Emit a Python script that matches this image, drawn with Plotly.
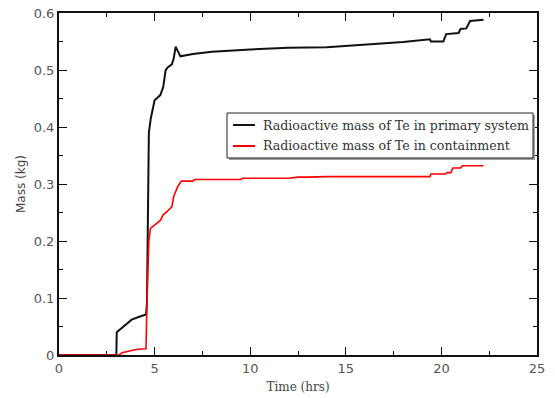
import plotly.graph_objects as go

# Time (hrs) and mass (kg) for primary system
t_primary = [0, 3.0, 3.02, 3.2, 3.5, 3.8, 4.2, 4.55, 4.6, 4.66, 4.7, 4.8, 4.9, 5.0, 5.3, 5.45, 5.58, 5.7, 5.9, 6.0, 6.1, 6.2, 6.35,
             7.0, 8.0, 10.0, 12.0, 14.0, 16.0, 18.0, 19.4, 19.45, 20.1, 20.25, 20.9, 21.0, 21.3, 21.5, 22.2]
m_primary = [0, 0, 0.040, 0.045, 0.055, 0.062, 0.067, 0.071, 0.09, 0.30, 0.39, 0.415, 0.43, 0.447, 0.456, 0.47, 0.50, 0.505, 0.51, 0.52, 0.541, 0.535, 0.524,
             0.528, 0.532, 0.536, 0.539, 0.540, 0.544, 0.549, 0.554, 0.550, 0.550, 0.563, 0.565, 0.572, 0.573, 0.586, 0.588]

# Time (hrs) and mass (kg) for containment
t_contain = [0, 3.15, 3.3, 3.5, 3.8, 4.1, 4.55, 4.62, 4.7, 4.78, 5.1, 5.3, 5.45, 5.6, 5.9, 6.0, 6.2, 6.4, 7.0, 7.1, 9.5, 9.6,
             12.0, 12.5, 13.0, 14.0, 19.4, 19.45, 20.2, 20.3, 20.5, 20.6, 21.0, 21.1, 22.2]
m_contain = [0, 0, 0.004, 0.006, 0.008, 0.010, 0.011, 0.12, 0.20, 0.222, 0.231, 0.236, 0.246, 0.250, 0.260, 0.278, 0.295, 0.305, 0.305, 0.308, 0.308, 0.310,
             0.310, 0.312, 0.312, 0.313, 0.313, 0.3175, 0.3175, 0.320, 0.320, 0.328, 0.328, 0.332, 0.332]

series_names = ["Radioactive mass of Te in primary system", "Radioactive mass of Te in containment"]
series_colors = ["#111111", "#ff0000"]

fig = go.Figure()
fig.add_trace(go.Scatter(x=t_primary, y=m_primary, mode="lines", name=series_names[0],
                         line=dict(color=series_colors[0], width=2)))
fig.add_trace(go.Scatter(x=t_contain, y=m_contain, mode="lines", name=series_names[1],
                         line=dict(color=series_colors[1], width=1.6)))

W, H = 555, 398
ml, mr, mt, mb = 59, 18, 13, 43
pw, ph = W - ml - mr, H - mt - mb

def px(x):
    return (x - ml) / pw

def py(y):
    return (H - mb - y) / ph

# custom legend box (pixels)
lx0, ly0, lx1, ly1 = 227, 113, 533, 158
fig.add_shape(type="rect", xref="paper", yref="paper",
              x0=px(lx0 + 2), x1=px(lx1 + 2), y0=py(ly1 + 2), y1=py(ly0 + 2),
              fillcolor="#a0a0a0", line=dict(width=0), layer="above")
fig.add_shape(type="rect", xref="paper", yref="paper",
              x0=px(lx0), x1=px(lx1), y0=py(ly1), y1=py(ly0),
              fillcolor="white", line=dict(color="#222222", width=1), layer="above")
rows = [125, 146]
for name, col, ry in zip(series_names, series_colors, rows):
    fig.add_shape(type="line", xref="paper", yref="paper",
                  x0=px(233), x1=px(255), y0=py(ry), y1=py(ry),
                  line=dict(color=col, width=2), layer="above")
    fig.add_annotation(xref="paper", yref="paper", x=px(261), y=py(ry),
                       xanchor="left", yanchor="middle", showarrow=False, text=name,
                       font=dict(family="DejaVu Serif", size=12.6, color="#333333"))

axis_common = dict(showline=True, linecolor="#111111", linewidth=2, mirror="ticks",
                   ticks="inside", ticklen=8, tickwidth=1, tickcolor="#111111",
                   showgrid=False, zeroline=False, automargin=False,
                   tickfont=dict(family="DejaVu Sans", size=13, color="#555555"))

fig.update_layout(
    width=W, height=H,
    margin=dict(l=ml, r=mr, t=mt, b=mb),
    paper_bgcolor="white", plot_bgcolor="white",
    showlegend=False,
    xaxis=dict(range=[0, 25], dtick=5, **axis_common,
               minor=dict(ticks="inside", ticklen=4, dtick=2.5, tickcolor="#111111"),
               title=dict(text="Time (hrs)", standoff=8,
                          font=dict(family="DejaVu Serif", size=12, color="#444444"))),
    yaxis=dict(range=[0, 0.6], dtick=0.1, tickformat="~g", **axis_common,
               minor=dict(ticks="inside", ticklen=4, dtick=0.05, tickcolor="#111111"),
               title=dict(text="Mass (kg)", standoff=6,
                          font=dict(family="DejaVu Sans", size=12, color="#444444"))),
)

fig.write_html("out.html")
